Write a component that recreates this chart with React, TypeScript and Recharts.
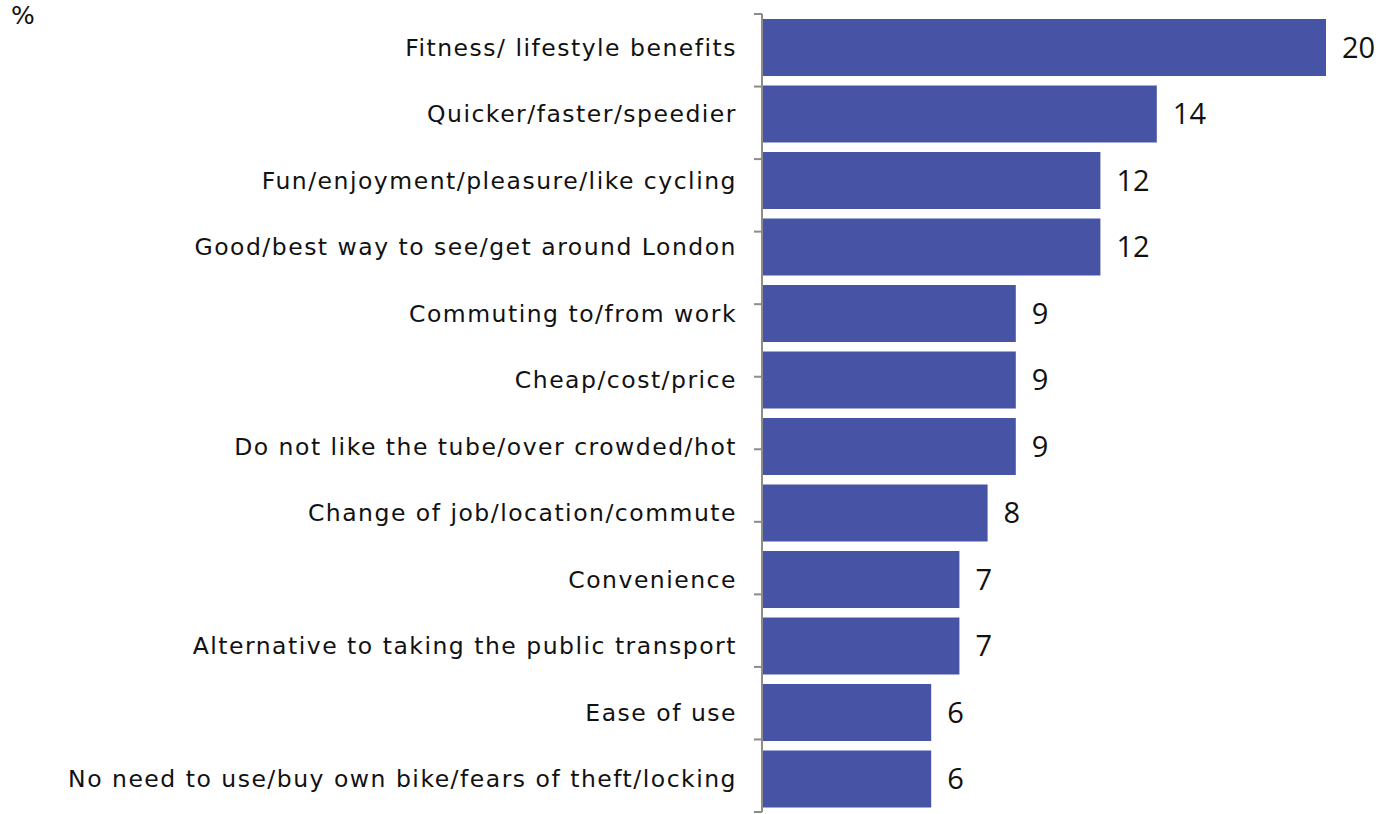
import React from 'react';
import { Bar, BarChart, LabelList, XAxis, YAxis } from "recharts";

const reasons = [
    "Fitness/ lifestyle benefits",
    "Quicker/faster/speedier",
    "Fun/enjoyment/pleasure/like cycling",
    "Good/best way to see/get around London",
    "Commuting to/from work",
    "Cheap/cost/price",
    "Do not like the tube/over crowded/hot",
    "Change of job/location/commute",
    "Convenience",
    "Alternative to taking the public transport",
    "Ease of use",
    "No need to use/buy own bike/fears of theft/locking",
];

const percents = [20, 14, 12, 12, 9, 9, 9, 8, 7, 7, 6, 6];

// boundary ticks between the category rows
const boundaryTicks = [0, 1, 2, 3, 4, 5, 6, 7, 8, 9, 10, 11, 12];

const barColor = "#4754A6";
const axisColor = "#8C8C8C";
const labelFont = "DejaVu Sans, Verdana, sans-serif";

const data = reasons.map((name, i) => ({ name, value: percents[i] }));

const NoLabel = () => <g />;

const App = () => {
    return (
        <div style={{ position: "absolute", left: 0, top: 0, width: 1382, height: 814, background: "#fff" }}>
            <div style={{
                position: "absolute",
                left: 11,
                top: 1,
                fontFamily: labelFont,
                fontSize: 25,
                color: "#111",
            }}>%</div>
            <BarChart
                width={1382}
                height={814}
                layout="vertical"
                data={data}
                barCategoryGap={5}
                margin={{ top: 14, right: 56, left: 0, bottom: 2 }}
            >
                <XAxis type="number" domain={[0, 20]} hide />
                <YAxis
                    yAxisId="bcat"
                    type="category"
                    dataKey="name"
                    width={761}
                    axisLine={false}
                    tickLine={false}
                    tickSize={0}
                    tickMargin={24}
                    interval={0}
                    tick={{ fill: "#111", fontSize: 23.5, fontFamily: labelFont, letterSpacing: 1.5 }}
                />
                <YAxis
                    yAxisId="agrid"
                    type="number"
                    domain={[0, 12]}
                    ticks={boundaryTicks}
                    interval={0}
                    width={1}
                    tick={NoLabel}
                    tickSize={8}
                    tickLine={{ stroke: axisColor, strokeWidth: 2 }}
                    axisLine={{ stroke: axisColor, strokeWidth: 2 }}
                />
                <Bar yAxisId="bcat" dataKey="value" fill={barColor} isAnimationActive={false}>
                    <LabelList
                        dataKey="value"
                        position="right"
                        offset={16}
                        style={{ fill: "#111", fontSize: 29, fontFamily: "Open Sans, sans-serif" }}
                    />
                </Bar>
            </BarChart>
        </div>
    );
}

export default App;
